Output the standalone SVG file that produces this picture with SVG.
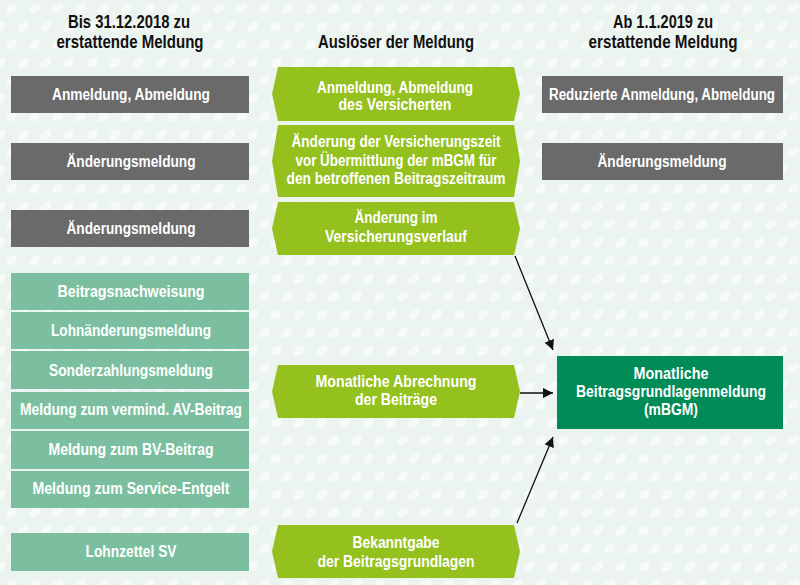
<svg xmlns="http://www.w3.org/2000/svg" width="800" height="585" viewBox="0 0 800 585">
<defs>
<pattern id="leaves" x="0" y="0" width="23" height="36" patternUnits="userSpaceOnUse">
<path class="leaf" d="M-5,4 C-6,-2 -2,-6 5,-5 C6,2 2,6 -5,4 Z" transform="translate(11.5,9)"/>
<path class="leaf" d="M-5,4 C-6,-2 -2,-6 5,-5 C6,2 2,6 -5,4 Z" transform="translate(0,27)"/>
<path class="leaf" d="M-5,4 C-6,-2 -2,-6 5,-5 C6,2 2,6 -5,4 Z" transform="translate(23,27)"/>
</pattern>
<marker id="arr" viewBox="0 0 10 10" refX="10" refY="5" markerWidth="10" markerHeight="10" markerUnits="userSpaceOnUse" orient="auto">
<path d="M0,0 L10,5 L0,10 Z" fill="#111"/>
</marker>
</defs>
<style>
.leaf{fill:#f6faf8}
text{font-family:"Liberation Sans",Arial,sans-serif;font-weight:bold;text-anchor:middle;font-size:16px;fill:#fff}
.hd{fill:#111;font-size:18px}
.gray{fill:#6a6a6a}
.teal{fill:#7cbfa0}
.lime{fill:#95c11f}
.dark{fill:#008b57}
.conn{stroke:#111;stroke-width:1.3;fill:none;marker-end:url(#arr)}
</style>
<rect width="800" height="585" fill="#ebf4ef"/>
<rect width="800" height="585" fill="url(#leaves)"/>

<g id="headers">
<text class="hd" x="129" y="28" textLength="122" lengthAdjust="spacingAndGlyphs">Bis 31.12.2018 zu</text>
<text class="hd" x="130" y="48" textLength="147" lengthAdjust="spacingAndGlyphs">erstattende Meldung</text>
<text class="hd" x="396" y="48" textLength="156" lengthAdjust="spacingAndGlyphs">Auslöser der Meldung</text>
<text class="hd" x="663" y="28" textLength="100" lengthAdjust="spacingAndGlyphs">Ab 1.1.2019 zu</text>
<text class="hd" x="663" y="48" textLength="149" lengthAdjust="spacingAndGlyphs">erstattende Meldung</text>
</g>

<g id="left-anmeldung"><rect class="gray" x="11" y="76" width="238" height="37"/><text x="131" y="100" textLength="158" lengthAdjust="spacingAndGlyphs">Anmeldung, Abmeldung</text></g>
<g id="left-aenderung1"><rect class="gray" x="11" y="143" width="238" height="37"/><text x="131" y="167" textLength="129" lengthAdjust="spacingAndGlyphs">Änderungsmeldung</text></g>
<g id="left-aenderung2"><rect class="gray" x="11" y="210" width="238" height="37"/><text x="131" y="234" textLength="129" lengthAdjust="spacingAndGlyphs">Änderungsmeldung</text></g>

<g id="left-beitragsnachweisung"><rect class="teal" x="11" y="273" width="238" height="37"/><text x="131" y="297" textLength="147" lengthAdjust="spacingAndGlyphs">Beitragsnachweisung</text></g>
<g id="left-lohnaenderung"><rect class="teal" x="11" y="312" width="238" height="37"/><text x="131" y="336" textLength="160" lengthAdjust="spacingAndGlyphs">Lohnänderungsmeldung</text></g>
<g id="left-sonderzahlung"><rect class="teal" x="11" y="351" width="238" height="38"/><text x="131" y="376" textLength="164" lengthAdjust="spacingAndGlyphs">Sonderzahlungsmeldung</text></g>
<g id="left-av"><rect class="teal" x="11" y="392" width="238" height="37"/><text x="131" y="415" textLength="222" lengthAdjust="spacingAndGlyphs">Meldung zum vermind. AV-Beitrag</text></g>
<g id="left-bv"><rect class="teal" x="11" y="431" width="238" height="38"/><text x="131" y="455" textLength="165" lengthAdjust="spacingAndGlyphs">Meldung zum BV-Beitrag</text></g>
<g id="left-service"><rect class="teal" x="11" y="471" width="238" height="37"/><text x="131" y="494" textLength="197" lengthAdjust="spacingAndGlyphs">Meldung zum Service-Entgelt</text></g>
<g id="left-lohnzettel"><rect class="teal" x="11" y="533" width="238" height="38"/><text x="131" y="557" textLength="91" lengthAdjust="spacingAndGlyphs">Lohnzettel SV</text></g>

<g id="mid-anmeldung"><polygon class="lime" points="278,67 514,67 520,94 514,121 278,121 272,94"/><text x="395" y="93" textLength="156" lengthAdjust="spacingAndGlyphs">Anmeldung, Abmeldung</text><text x="395" y="110" textLength="113" lengthAdjust="spacingAndGlyphs">des Versicherten</text></g>
<g id="mid-versicherungszeit"><polygon class="lime" points="278,125 514,125 520,161 514,197 278,197 272,161"/><text x="396" y="147" textLength="209" lengthAdjust="spacingAndGlyphs">Änderung der Versicherungszeit</text><text x="396" y="166" textLength="201" lengthAdjust="spacingAndGlyphs">vor Übermittlung der mBGM für</text><text x="396" y="184" textLength="219" lengthAdjust="spacingAndGlyphs">den betroffenen Beitragszeitraum</text></g>
<g id="mid-verlauf"><polygon class="lime" points="278,202 514,202 520,228.5 514,255 278,255 272,228.5"/><text x="396" y="223" textLength="83" lengthAdjust="spacingAndGlyphs">Änderung im</text><text x="396" y="242" textLength="142" lengthAdjust="spacingAndGlyphs">Versicherungsverlauf</text></g>
<g id="mid-abrechnung"><polygon class="lime" points="278,365 514,365 520,391.5 514,418 278,418 272,391.5"/><text x="396" y="387" textLength="161" lengthAdjust="spacingAndGlyphs">Monatliche Abrechnung</text><text x="396" y="405" textLength="82" lengthAdjust="spacingAndGlyphs">der Beiträge</text></g>
<g id="mid-bekanntgabe"><polygon class="lime" points="278,525 514,525 520,551.5 514,578 278,578 272,551.5"/><text x="396" y="548" textLength="87" lengthAdjust="spacingAndGlyphs">Bekanntgabe</text><text x="396" y="567" textLength="157" lengthAdjust="spacingAndGlyphs">der Beitragsgrundlagen</text></g>

<g id="right-reduziert"><rect class="gray" x="542" y="76" width="241" height="37"/><text x="662" y="100" textLength="226" lengthAdjust="spacingAndGlyphs">Reduzierte Anmeldung, Abmeldung</text></g>
<g id="right-aenderung"><rect class="gray" x="542" y="143" width="241" height="37"/><text x="662" y="167" textLength="129" lengthAdjust="spacingAndGlyphs">Änderungsmeldung</text></g>
<g id="right-mbgm"><rect class="dark" x="557" y="356" width="226" height="73"/><text x="671" y="379" textLength="75" lengthAdjust="spacingAndGlyphs">Monatliche</text><text x="671" y="397" textLength="190" lengthAdjust="spacingAndGlyphs">Beitragsgrundlagenmeldung</text><text x="671" y="415" textLength="54" lengthAdjust="spacingAndGlyphs">(mBGM)</text></g>

<g id="connectors">
<line class="conn" x1="515" y1="256" x2="553" y2="350"/>
<line class="conn" x1="520" y1="393" x2="553" y2="393"/>
<line class="conn" x1="517" y1="523" x2="553" y2="437"/>
</g>
</svg>
